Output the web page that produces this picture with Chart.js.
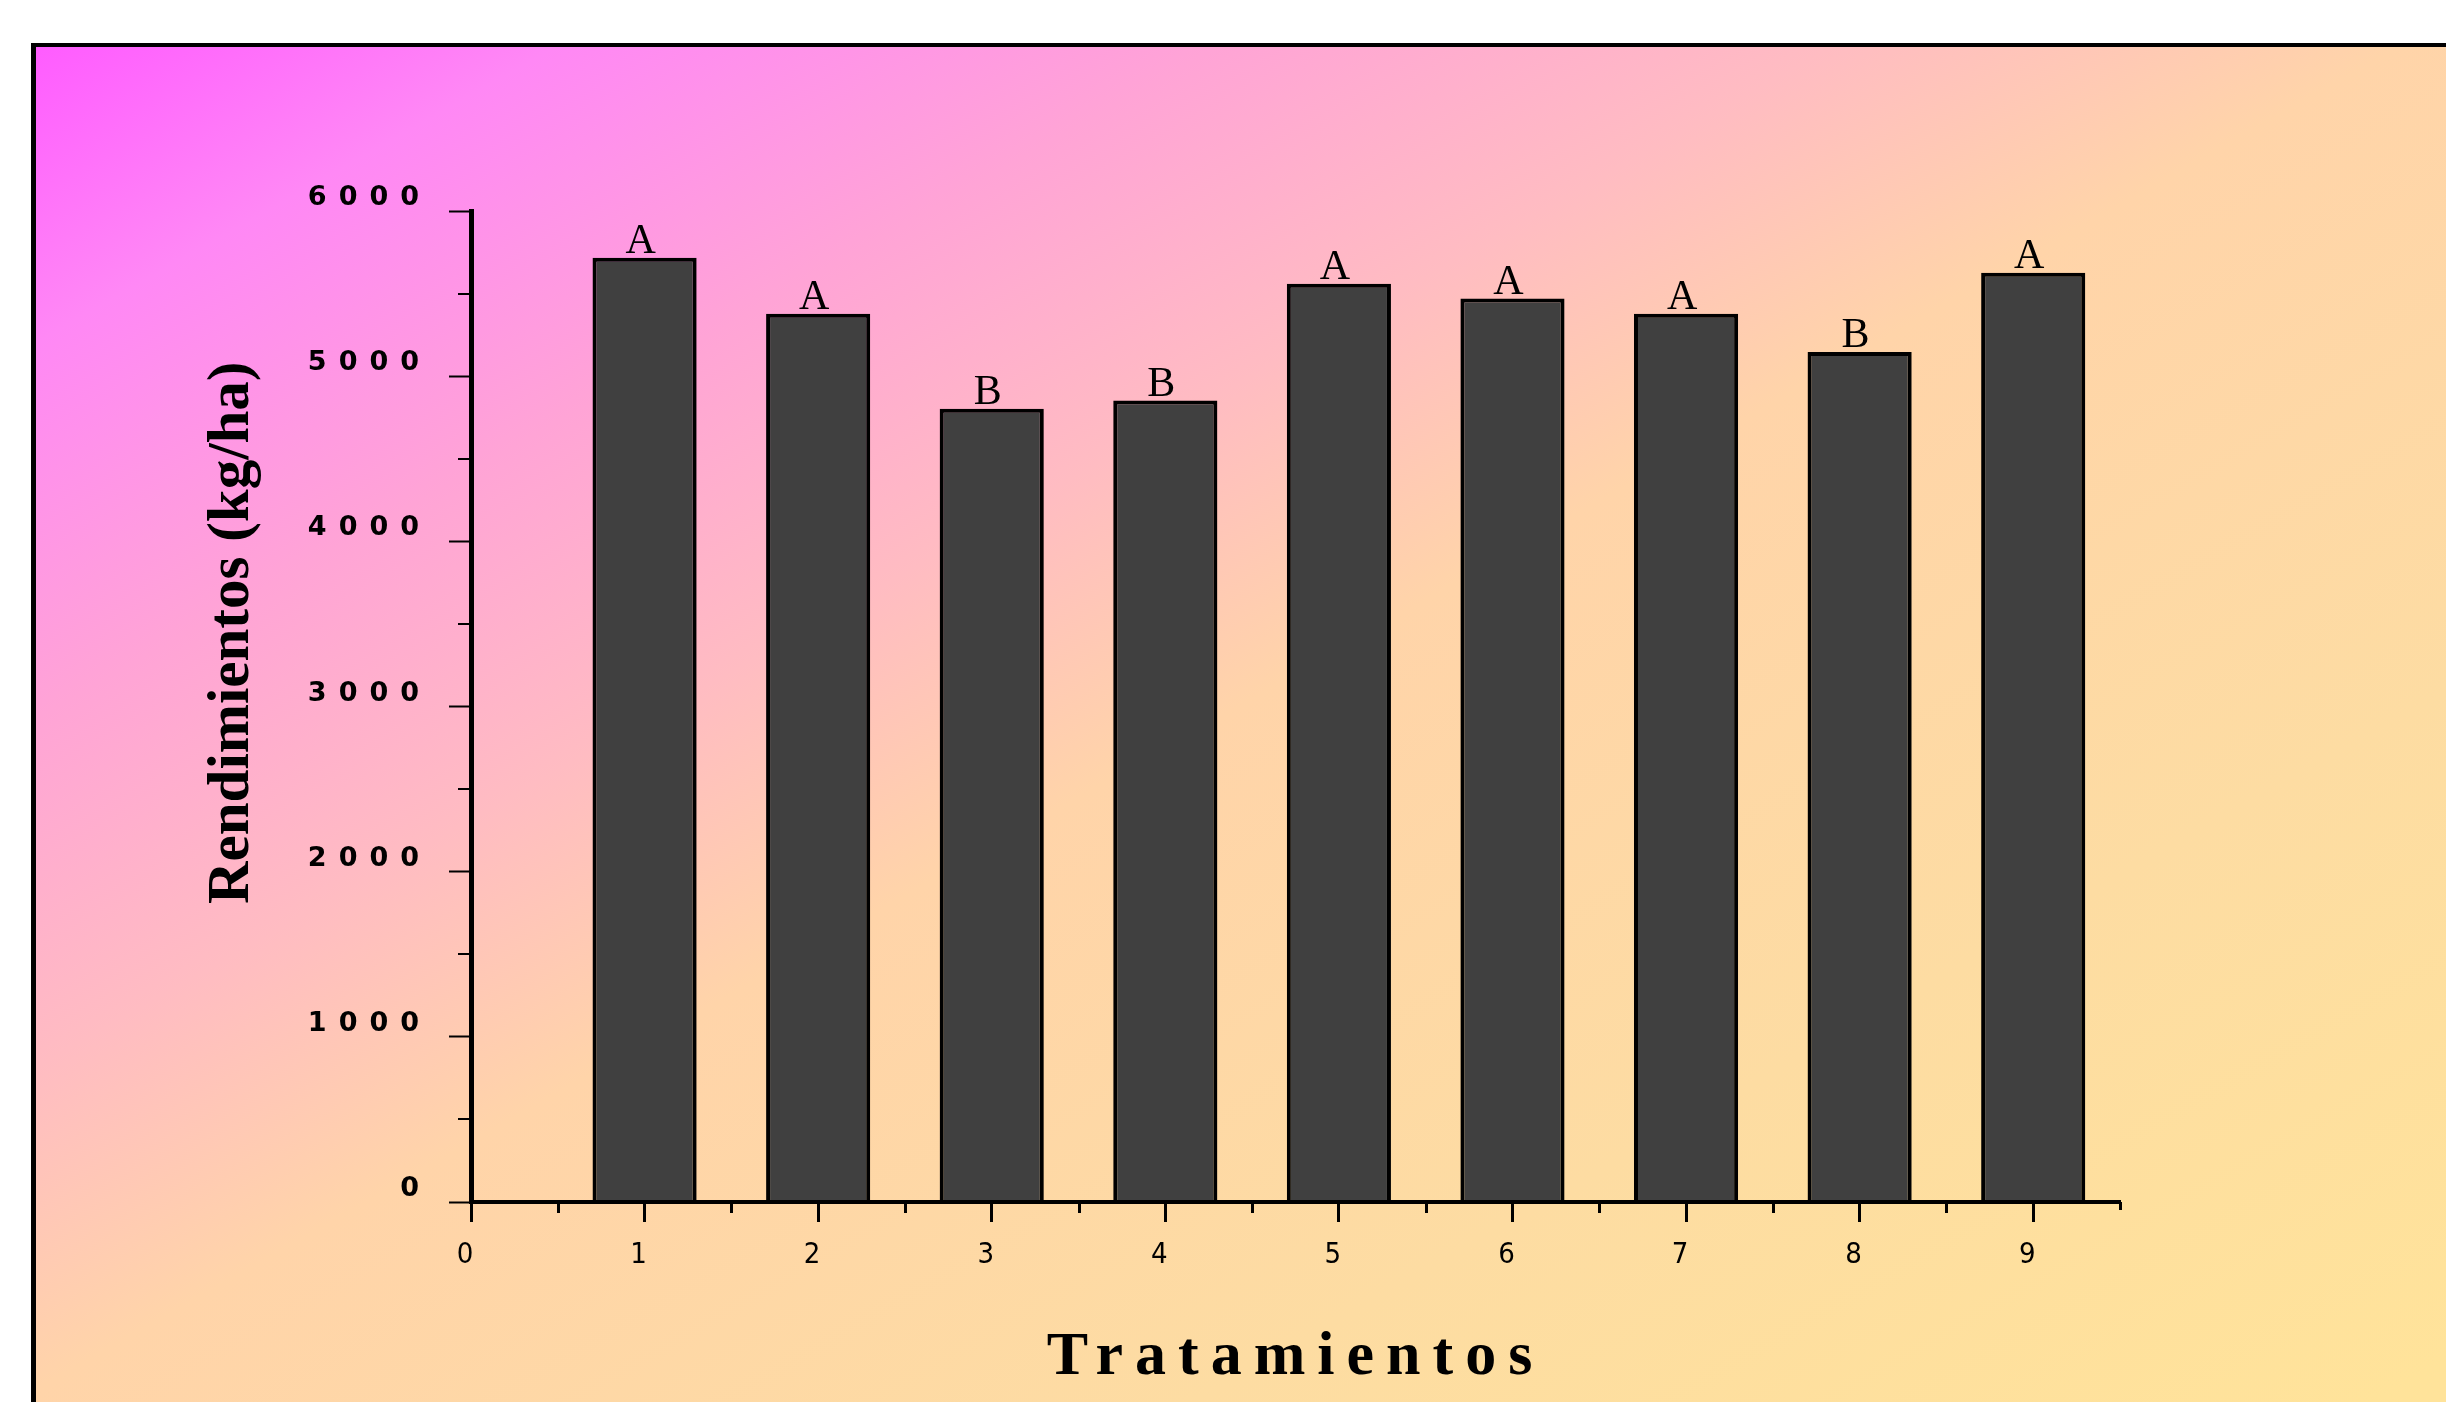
<!DOCTYPE html>
<html>
<head>
<meta charset="utf-8">
<script src="https://cdn.jsdelivr.net/npm/chart.js@4/dist/chart.umd.min.js"></script>
<style>
  html, body { margin: 0; padding: 0; background: #ffffff; }
  #wrap { width: 2446px; height: 1402px; }
</style>
</head>
<body>
<div id="wrap"><canvas id="c" width="2446" height="1402"></canvas></div>
<script>
// ---- data ----
const categories = [1, 2, 3, 4, 5, 6, 7, 8, 9];
const yields = [5717, 5378, 4802, 4852, 5559, 5470, 5378, 5147, 5626];
const groups = ['A', 'A', 'B', 'B', 'A', 'A', 'A', 'B', 'A'];
const xMinorTicks = [0.5, 1.5, 2.5, 3.5, 4.5, 5.5, 6.5, 7.5, 8.5, 9.5];
const yMinorTicks = [500, 1500, 2500, 3500, 4500, 5500];
const xTitle = 'Tratamientos';
const yTitle = 'Rendimientos (kg/ha)';

const points = categories.map((c, i) => ({ x: c, y: yields[i] }));

const backgroundPlugin = {
  id: 'bg',
  beforeDraw(chart) {
    const ctx = chart.ctx;
    const W = chart.width, H = chart.height;
    ctx.save();
    ctx.fillStyle = '#ffffff';
    ctx.fillRect(0, 0, W, H);
    const x0 = 36, y0 = 47;
    const g = ctx.createLinearGradient(x0, y0, x0 + 1153, y0 + 2029);
    g.addColorStop(0.00, '#FF5CFF');
    g.addColorStop(0.11, '#FF88F5');
    g.addColorStop(0.25, '#FFA4D6');
    g.addColorStop(0.38, '#FFBCC2');
    g.addColorStop(0.50, '#FFD4A9');
    g.addColorStop(0.75, '#FDDCA2');
    g.addColorStop(1.00, '#FFE39A');
    ctx.fillStyle = g;
    ctx.fillRect(x0, y0, W - x0, H - y0);
    ctx.fillStyle = '#000000';
    ctx.fillRect(31, 43, 5, H - 43);
    ctx.fillRect(31, 43, W - 31, 4);
    ctx.restore();
  }
};

const minorTickPlugin = {
  id: 'minorTicks',
  afterDatasetsDraw(chart) {
    const ctx = chart.ctx;
    const xs = chart.scales.x, ys = chart.scales.y;
    const a = chart.chartArea;
    ctx.save();
    ctx.strokeStyle = '#000';
    ctx.lineWidth = 3;
    xMinorTicks.forEach(v => {
      const px = Math.round(xs.getPixelForValue(v)) + 0.5;
      const len = v === 9.5 ? 8 : 11;
      ctx.beginPath();
      ctx.moveTo(px, a.bottom);
      ctx.lineTo(px, a.bottom + len);
      ctx.stroke();
    });
    ctx.lineWidth = 2;
    yMinorTicks.forEach(v => {
      const py = Math.round(ys.getPixelForValue(v));
      ctx.beginPath();
      ctx.moveTo(a.left, py);
      ctx.lineTo(a.left - 13, py);
      ctx.stroke();
    });
    ctx.restore();
  }
};

const groupLabelPlugin = {
  id: 'groupLabels',
  afterDatasetsDraw(chart) {
    const ctx = chart.ctx;
    const meta = chart.getDatasetMeta(0);
    ctx.save();
    ctx.fillStyle = '#000';
    ctx.font = "42px 'Liberation Serif', 'Times New Roman', serif";
    ctx.textAlign = 'center';
    ctx.textBaseline = 'alphabetic';
    meta.data.forEach((bar, i) => {
      ctx.fillText(groups[i], bar.x - 4, bar.y - 5);
    });
    ctx.restore();
  }
};

const spacingPlugin = {
  id: 'spacing',
  afterDatasetsDraw(chart) {
    chart.ctx.letterSpacing = '12px';
  },
  afterDraw(chart) {
    chart.ctx.letterSpacing = '0px';
  }
};

new Chart(document.getElementById('c'), {
  type: 'bar',
  data: {
    datasets: [{
      data: points,
      backgroundColor: '#404040',
      borderColor: '#000000',
      borderWidth: 4,
      borderSkipped: 'start',
      categoryPercentage: 1.0,
      barPercentage: 0.6
    }]
  },
  options: {
    responsive: false,
    animation: false,
    devicePixelRatio: 1,
    layout: { padding: { top: 211, right: 326, bottom: 0, left: 0 } },
    plugins: {
      legend: { display: false },
      tooltip: { enabled: false }
    },
    scales: {
      x: {
        type: 'linear',
        min: 0,
        max: 9.5,
        offset: false,
        afterFit: s => { s.height = 200; },
        ticks: {
          stepSize: 1,
          includeBounds: false,
          color: '#000',
          padding: 16,
          z: 1,
          callback: v => String(v),
          font: { family: "'Liberation Sans Narrow', 'DejaVu Sans Condensed', sans-serif", size: 29 }
        },
        grid: {
          offset: false,
          drawOnChartArea: false,
          drawTicks: true,
          tickLength: 20,
          tickWidth: 3,
          tickColor: '#000',
          z: 1
        },
        border: { display: true, color: '#000', width: 4, z: 1 },
        title: {
          display: true,
          text: xTitle,
          color: '#000',
          font: { family: "'Liberation Serif', 'Times New Roman', serif", size: 62, weight: 'bold' },
          padding: { top: 0, bottom: 7 }
        }
      },
      y: {
        min: 0,
        max: 6000,
        afterFit: s => { s.width = 471; },
        ticks: {
          stepSize: 1000,
          color: '#000',
          padding: 18,
          labelOffset: -13,
          z: 1,
          callback: v => String(v),
          font: { family: "'DejaVu Sans', sans-serif", size: 27, weight: 'bold' }
        },
        grid: {
          drawOnChartArea: false,
          drawTicks: true,
          tickLength: 22,
          tickWidth: 2,
          tickColor: '#000'
        },
        border: { display: true, color: '#000', width: 5, z: 1 },
        title: {
          display: true,
          text: '          ' + yTitle,
          color: '#000',
          font: { family: "'Liberation Serif', 'Times New Roman', serif", size: 59, weight: 'bold' },
          padding: { top: 197, bottom: 0 }
        }
      }
    }
  },
  plugins: [backgroundPlugin, minorTickPlugin, groupLabelPlugin, spacingPlugin]
});
</script>
</body>
</html>
